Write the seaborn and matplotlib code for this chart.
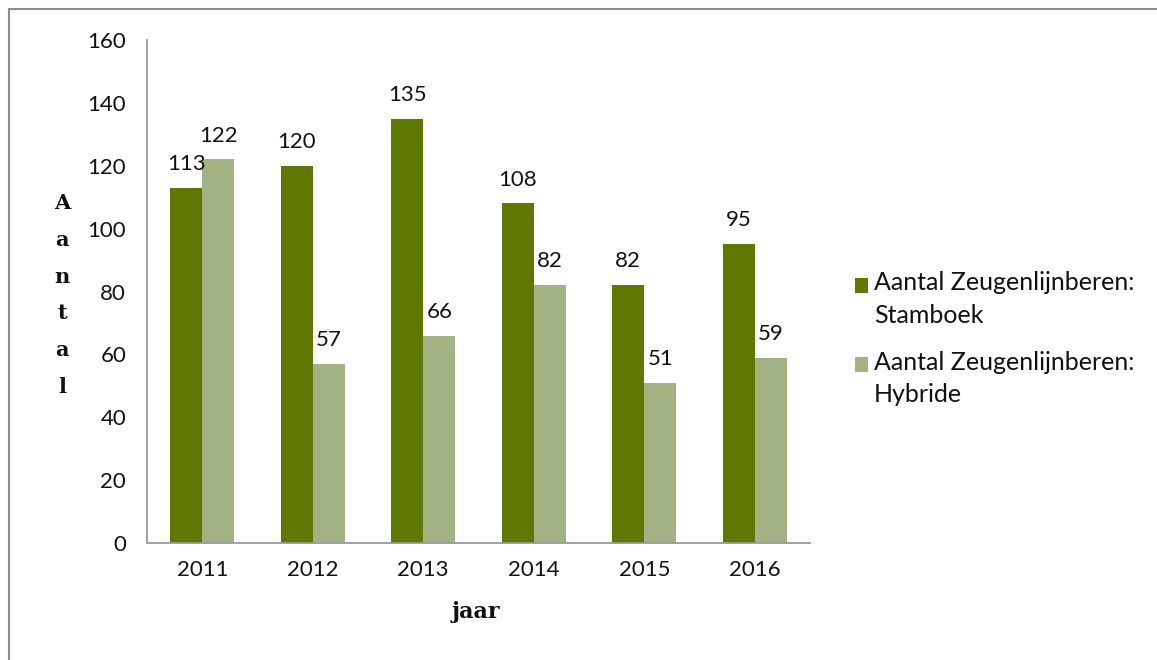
import matplotlib
matplotlib.use("Agg")
import matplotlib.pyplot as plt
import seaborn as sns
import pandas as pd
from matplotlib.patches import Rectangle

years = ["2011", "2012", "2013", "2014", "2015", "2016"]
stamboek = [113, 120, 135, 108, 82, 95]
hybride = [122, 57, 66, 82, 51, 59]
series_names = ["Aantal Zeugenlijnberen:\nStamboek", "Aantal Zeugenlijnberen:\nHybride"]
colors = ["#5f7800", "#a2b283"]

df = pd.DataFrame({
    "jaar": years * 2,
    "Aantal": stamboek + hybride,
    "reeks": [series_names[0]] * len(years) + [series_names[1]] * len(years),
})

sns.set_theme(style="white")
plt.rcParams["font.family"] = ["Lato", "DejaVu Sans"]

W, H = 1157, 660
fig = plt.figure(figsize=(W / 100, H / 100), dpi=100)
ax = fig.add_axes([147 / W, 1 - 543 / H, (810 - 147) / W, (543 - 40) / H])

sns.barplot(data=df, x="jaar", y="Aantal", hue="reeks", palette=colors,
            width=0.58, saturation=1, linewidth=0, ax=ax, legend=True)

for cont in ax.containers:
    ax.bar_label(cont, labels=[f"{v:.0f}" for v in cont.datavalues],
                 padding=10, fontsize=16, color="#111111")

ax.set_ylim(0, 160)
ax.set_yticks(range(0, 161, 20))
ax.set_xlim(-0.5, len(years) - 0.5)
ax.set_xlabel("")
ax.set_ylabel("")

for side in ["top", "right"]:
    ax.spines[side].set_visible(False)
for side in ["left", "bottom"]:
    ax.spines[side].set_color("#9a9a9a")
    ax.spines[side].set_linewidth(1.3)

ax.tick_params(axis="both", which="both", direction="out", length=6,
               width=1.3, color="#9a9a9a", labelsize=16, labelcolor="#111111")
ax.tick_params(axis="y", pad=9)
ax.tick_params(axis="x", pad=12)
# category boundary ticks on the x axis
ax.set_xticks([i for i in range(len(years))])
ax.set_xticks([i - 0.5 for i in range(len(years) + 1)], minor=True)
ax.tick_params(axis="x", which="major", length=0)
ax.tick_params(axis="x", which="minor", length=7)

fig.text(62 / W, 1 - 295 / H, "A\na\nn\nt\na\nl", ha="center", va="center",
         fontsize=15, fontweight="bold", family="DejaVu Serif",
         linespacing=2.06, color="#111111")
fig.text(476 / W, 1 - 612 / H, "jaar", ha="center", va="center",
         fontsize=16, fontweight="bold", family="DejaVu Serif", color="#111111")

leg = ax.legend(loc="upper left", bbox_to_anchor=(832 / W, 1 - 249 / H),
                bbox_transform=fig.transFigure, frameon=False, fontsize=18,
                handlelength=0.55, handleheight=0.55, handletextpad=0.22,
                labelspacing=0.95)
for t in leg.get_texts():
    t.set_linespacing(1.5)
    t.set_color("#111111")
# put each square next to the first line of its label
for column in leg._legend_handle_box.get_children():
    for row in column.get_children():
        row.align = "top"
for handle in leg.legend_handles:
    handle.set_y(handle.get_y() - 4.5)

fig.add_artist(Rectangle((8.5 / W, -0.05), 1.2, 1 - 8.5 / H + 0.05,
                         transform=fig.transFigure, fill=False,
                         edgecolor="#8c8c8c", linewidth=1.5))

fig.savefig("out.png", dpi=100, facecolor="white")
